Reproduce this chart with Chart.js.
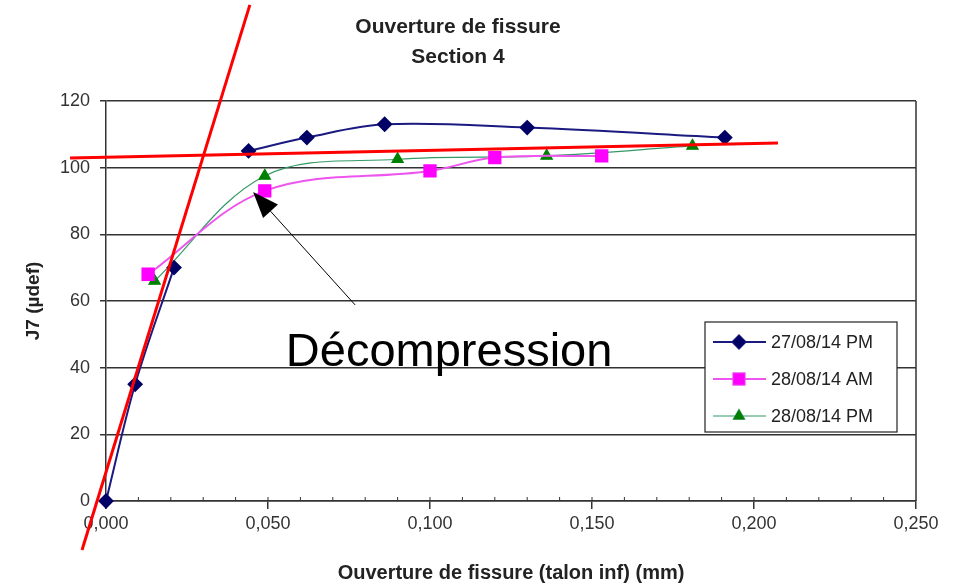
<!DOCTYPE html>
<html>
<head>
<meta charset="utf-8">
<script src="https://cdn.jsdelivr.net/npm/chart.js@4.4.1/dist/chart.umd.min.js"></script>
<style>
  html, body { margin: 0; padding: 0; background: #fff; }
  #wrap { width: 959px; height: 585px; }
</style>
</head>
<body>
<div id="wrap"><canvas id="chart" width="959" height="585"></canvas></div>
<script>
// Ouverture de fissure - Section 4
const seriesNames = ['27/08/14 PM', '28/08/14 AM', '28/08/14 PM'];

// x = ouverture de fissure (mm), y = J7 (µdef)
// the 27/08 PM series is broken between 70 and 105 (null = gap)
const pm2708X = [0, 0.009, 0.021, null, 0.044, 0.062, 0.086, 0.130, 0.191];
const pm2708Y = [0, 35, 70, null, 105, 109, 113, 112, 109];
const am2808X = [0.013, 0.049, 0.100, 0.120, 0.153];
const am2808Y = [68, 93, 99, 103, 103.5];
const pm2808X = [0.015, 0.049, 0.090, 0.136, 0.181];
const pm2808Y = [66, 97.5, 102.5, 103.5, 106.5];

const xTicks = [0, 0.05, 0.1, 0.15, 0.2, 0.25];
const yTicks = [0, 20, 40, 60, 80, 100, 120];

// hand-drawn red lines, arrow and label, in data units
const redLine1 = [[-0.0074, -14.7], [0.0444, 148.8]];
const redLine2 = [[-0.0111, 102.9], [0.2074, 107.4]];
const arrowFrom = [0.0769, 58.8];
const arrowTip = [0.0454, 92.7];
const noteText = 'Décompression';
const notePos = [0.1059, 40.5];

const toPoints = (xs, ys) => xs.map((x, i) => ({ x: x, y: ys[i] }));
const FONT = "'Liberation Sans', Arial, sans-serif";

const extras = {
  id: 'extras',
  afterDraw(chart) {
    const { ctx, chartArea } = chart;
    const sx = chart.scales.x, sy = chart.scales.y;
    const px = p => [sx.getPixelForValue(p[0]), sy.getPixelForValue(p[1])];
    ctx.save();

    // right border
    ctx.strokeStyle = '#333';
    ctx.lineWidth = 1.5;
    ctx.beginPath();
    ctx.moveTo(chartArea.right, chartArea.top);
    ctx.lineTo(chartArea.right, chartArea.bottom);
    ctx.stroke();

    // minor ticks on x axis
    ctx.lineWidth = 1;
    for (let v = 0.01; v < 0.25; v += 0.01) {
      const x = sx.getPixelForValue(v);
      ctx.beginPath();
      ctx.moveTo(x, chartArea.bottom);
      ctx.lineTo(x, chartArea.bottom - 4);
      ctx.stroke();
    }

    // legend box
    const lx = chartArea.right - 211, ly = 322, lw = 192, lh = 110;
    ctx.fillStyle = '#fff';
    ctx.fillRect(lx, ly, lw, lh);
    ctx.strokeStyle = '#222';
    ctx.lineWidth = 1.2;
    ctx.strokeRect(lx, ly, lw, lh);
    chart.data.datasets.forEach((ds, i) => {
      const cy = ly + 20 + i * 37;
      ctx.strokeStyle = ds.borderColor;
      ctx.lineWidth = ds.borderWidth;
      ctx.beginPath();
      ctx.moveTo(lx + 8, cy);
      ctx.lineTo(lx + 61, cy);
      ctx.stroke();
      Chart.helpers.drawPoint(ctx, {
        pointStyle: ds.pointStyle, radius: ds.pointRadius, borderWidth: 1, rotation: 0
      }, lx + 34, cy);
      ctx.fillStyle = ds.pointBackgroundColor;
      ctx.fill();
      ctx.fillStyle = '#222';
      ctx.font = '18px ' + FONT;
      ctx.textBaseline = 'middle';
      ctx.textAlign = 'left';
      ctx.fillText(ds.label, lx + 66, cy + 1);
    });

    // red lines
    ctx.strokeStyle = '#ff0000';
    ctx.lineWidth = 3;
    [redLine1, redLine2].forEach(l => {
      const a = px(l[0]), b = px(l[1]);
      ctx.beginPath();
      ctx.moveTo(a[0], a[1]);
      ctx.lineTo(b[0], b[1]);
      ctx.stroke();
    });

    // arrow
    const a = px(arrowFrom), t = px(arrowTip);
    const ang = Math.atan2(t[1] - a[1], t[0] - a[0]);
    const hl = 26, hw = 10;
    const bx = t[0] - hl * Math.cos(ang), by = t[1] - hl * Math.sin(ang);
    ctx.strokeStyle = '#000';
    ctx.lineWidth = 1;
    ctx.beginPath();
    ctx.moveTo(a[0], a[1]);
    ctx.lineTo(bx, by);
    ctx.stroke();
    ctx.fillStyle = '#000';
    ctx.beginPath();
    ctx.moveTo(t[0], t[1]);
    ctx.lineTo(bx + hw * Math.sin(ang), by - hw * Math.cos(ang));
    ctx.lineTo(bx - hw * Math.sin(ang), by + hw * Math.cos(ang));
    ctx.closePath();
    ctx.fill();

    // label
    const n = px(notePos);
    ctx.font = '47px ' + FONT;
    ctx.textAlign = 'center';
    ctx.textBaseline = 'alphabetic';
    ctx.fillStyle = '#000';
    ctx.fillText(noteText, n[0], n[1]);

    ctx.restore();
  }
};

new Chart(document.getElementById('chart'), {
  type: 'scatter',
  data: {
    datasets: [{
      label: seriesNames[0],
      data: toPoints(pm2708X, pm2708Y),
      showLine: true,
      spanGaps: false,
      clip: 10,
      borderColor: '#1a1a80',
      borderWidth: 2,
      pointStyle: 'rectRot',
      pointRadius: 6.5,
      pointBackgroundColor: '#000066',
      pointBorderColor: '#000066',
      tension: 0.35
    }, {
      label: seriesNames[1],
      data: toPoints(am2808X, am2808Y),
      showLine: true,
      clip: 10,
      borderColor: '#ee55ee',
      borderWidth: 2,
      pointStyle: 'rect',
      pointRadius: 8,
      pointBackgroundColor: '#ff00ff',
      pointBorderColor: '#ff00ff',
      tension: 0.35
    }, {
      label: seriesNames[2],
      data: toPoints(pm2808X, pm2808Y),
      showLine: true,
      clip: 10,
      borderColor: '#339966',
      borderWidth: 1.2,
      pointStyle: 'triangle',
      pointRadius: 6.5,
      pointBackgroundColor: '#008000',
      pointBorderColor: '#008000',
      tension: 0.35
    }]
  },
  options: {
    responsive: false,
    animation: false,
    layout: { padding: { left: 0, right: 43, top: 0, bottom: 0 } },
    plugins: {
      legend: { display: false },
      tooltip: { enabled: false },
      title: {
        display: true,
        text: ['Ouverture de fissure', 'Section 4'],
        color: '#222',
        font: { family: FONT, size: 21, weight: 'bold', lineHeight: 1.45 },
        padding: { top: 12, bottom: 28 }
      }
    },
    scales: {
      x: {
        type: 'linear',
        min: 0,
        max: 0.25,
        afterBuildTicks: s => { s.ticks = xTicks.map(v => ({ value: v })); },
        afterFit: s => { s.height = 84; },
        ticks: {
          color: '#333',
          font: { family: FONT, size: 18 },
          padding: 4,
          maxRotation: 0,
          autoSkip: false,
          callback: v => v.toFixed(3).replace('.', ',')
        },
        grid: { drawOnChartArea: false, color: '#333', lineWidth: 1.5, tickLength: 8 },
        border: { color: '#333', width: 1.5 },
        title: {
          display: true,
          text: 'Ouverture de fissure (talon inf) (mm)',
          color: '#222',
          font: { family: FONT, size: 20, weight: 'bold' },
          padding: { top: 4, bottom: 0 }
        }
      },
      y: {
        min: 0,
        max: 120,
        afterBuildTicks: s => { s.ticks = yTicks.map(v => ({ value: v })); },
        afterFit: s => { s.width = 106; },
        ticks: {
          color: '#333',
          font: { family: FONT, size: 18 },
          padding: 10
        },
        grid: { color: '#333', lineWidth: 1.5, tickLength: 6 },
        border: { color: '#333', width: 1.5 },
        title: {
          display: true,
          text: 'J7 (µdef)',
          color: '#222',
          font: { family: FONT, size: 19, weight: 'bold' },
          padding: { top: 22, bottom: 0 }
        }
      }
    }
  },
  plugins: [extras]
});
</script>
</body>
</html>
